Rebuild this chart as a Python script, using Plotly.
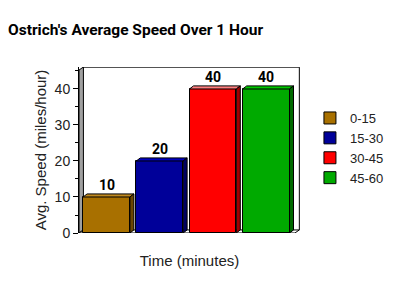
import plotly.graph_objects as go

categories = ["0-15", "15-30", "30-45", "45-60"]
speeds = [10, 20, 40, 40]
front_colors = ["#A87000", "#000099", "#FF0000", "#00AA00"]
top_colors = ["#C08A20", "#0000C0", "#FF8080", "#00C800"]
side_colors = ["#6A4600", "#000060", "#A00000", "#006A00"]

xs = list(range(len(categories)))
bar_w = 0.88
dx = 0.075   # 3D depth in x units
dy = 0.85    # 3D depth in y units
ytop = 46.1

fig = go.Figure()
for i, (c, v) in enumerate(zip(categories, speeds)):
    fig.add_trace(go.Bar(x=[xs[i]], y=[v], name=c, width=bar_w,
                         marker=dict(color=front_colors[i], line=dict(color="black", width=1))))

shapes = []
wall = 0.02
shapes.append(dict(type="path", xref="x domain", yref="y",
                   path=f"M 0 0 L 0 {ytop-dy} L {wall} {ytop} L {wall} {dy} Z",
                   fillcolor="#A0A0A0", line=dict(color="black", width=1), layer="below"))
shapes.append(dict(type="path", xref="x domain", yref="y",
                   path=f"M {wall} {ytop-0.05} L 0.997 {ytop-0.05} L 0.997 {dy}", fillcolor="rgba(0,0,0,0)",
                   line=dict(color="black", width=1), layer="below"))
shapes.append(dict(type="path", xref="x domain", yref="y",
                   path=f"M 0 0 L {wall} {dy} L 0.997 {dy} L 0.977 0 Z",
                   fillcolor="white", line=dict(color="black", width=1), layer="below"))
for i, v in enumerate(speeds):
    x0 = xs[i] - bar_w / 2
    x1 = xs[i] + bar_w / 2
    shapes.append(dict(type="path", xref="x", yref="y",
                       path=f"M {x0} {v} L {x0+dx} {v+dy} L {x1+dx} {v+dy} L {x1} {v} Z",
                       fillcolor=top_colors[i], line=dict(color="black", width=1)))
    shapes.append(dict(type="path", xref="x", yref="y",
                       path=f"M {x1} 0 L {x1+dx} {dy} L {x1+dx} {v+dy} L {x1} {v} Z",
                       fillcolor=side_colors[i], line=dict(color="black", width=1)))

annotations = []
for i, v in enumerate(speeds):
    annotations.append(dict(x=xs[i], y=v + dy, text=f"<b>{v}</b>", showarrow=False,
                            yanchor="bottom", yshift=-1,
                            font=dict(family="Roboto, Liberation Sans, sans-serif",
                                      size=14, color="black")))

fig.update_layout(
    width=400, height=300,
    margin=dict(l=79, r=100, t=67, b=67, autoexpand=False),
    paper_bgcolor="white", plot_bgcolor="white",
    title=dict(text="<b>Ostrich's Average Speed Over 1 Hour</b>", x=0.02, xanchor="left",
               y=0.9, yanchor="middle",
               font=dict(family="Roboto, Liberation Sans, sans-serif",
                         size=15.5, color="black")),
    xaxis=dict(range=[-0.517, 3.637], showticklabels=False, showgrid=False, zeroline=False,
               showline=False, ticks="",
               title=dict(text="Time (minutes)", standoff=22,
                          font=dict(family="Liberation Sans, Arial, sans-serif", size=15, color="#222"))),
    yaxis=dict(range=[0, ytop], showgrid=False, zeroline=False, showline=True, linecolor="black",
               ticks="outside", ticklen=5, tickcolor="black", dtick=10,
               minor=dict(ticks="outside", ticklen=3, dtick=5, tickcolor="black"),
               tickfont=dict(family="Liberation Sans, Arial, sans-serif", size=14, color="#222"),
               title=dict(text="Avg. Speed (miles/hour)", standoff=4,
                          font=dict(family="Liberation Sans, Arial, sans-serif", size=15, color="#222"))),
    legend=dict(x=1.045, y=0.512, xanchor="left", yanchor="middle", tracegroupgap=0,
                font=dict(family="Liberation Sans, Arial, sans-serif", size=13, color="#222")),
    showlegend=True,
    shapes=shapes,
    annotations=annotations,
    bargap=0,
)
fig.write_html("out.html")
